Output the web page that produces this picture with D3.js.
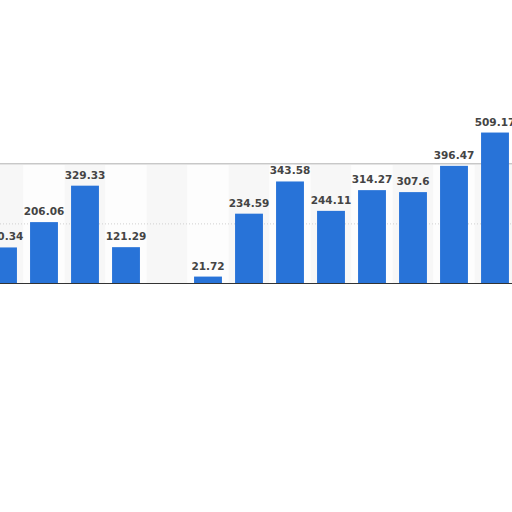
<!DOCTYPE html>
<html lang="en">
<head>
  <meta charset="utf-8">
  <title>Bar chart</title>
  <script src="https://d3js.org/d3.v7.min.js"></script>
  <style>
    html, body { margin: 0; padding: 0; background: #fff; }
    svg { display: block; }
  </style>
</head>
<body>
  <div id="chart"></div>
  <script>
    // data (no axis labels visible, so slots are just numbered)
    var categories = ["1", "2", "3", "4", "5", "6", "7", "8", "9", "10", "11", "12", "13"];
    var values = [120.34, 206.06, 329.33, 121.29, 0, 21.72, 234.59, 343.58, 244.11, 314.27, 307.6, 396.47, 509.17];
    var labels = ["120.34", "206.06", "329.33", "121.29", "", "21.72", "234.59", "343.58", "244.11", "314.27", "307.6", "396.47", "509.17"];
    var gridTicks = [200];

    var w = 512, h = 512;
    var baseY = 283;
    var topY = 164.8;

    var svg = d3.select("#chart").append("svg")
      .attr("width", w)
      .attr("height", h);

    var x = d3.scaleBand()
      .domain(categories)
      .range([-17.5, 515.5])
      .paddingInner(0.32)
      .paddingOuter(0.16);

    var y = d3.scaleLinear()
      .domain([0, 400])
      .range([baseY, topY]);

    // plot band with faint alternating columns
    svg.append("g")
      .selectAll("rect")
      .data(categories)
      .enter()
      .append("rect")
      .attr("x", d => x(d) - x.step() * x.paddingInner() / 2)
      .attr("y", y(400))
      .attr("width", x.step())
      .attr("height", baseY - y(400))
      .style("fill", (d, i) => i % 2 === 0 ? "#f7f7f7" : "#fdfdfd");

    // top border of the band
    svg.append("line")
      .attr("x1", 0).attr("x2", w)
      .attr("y1", y(400) - 1).attr("y2", y(400) - 1)
      .style("stroke", "#c8c8c8")
      .style("stroke-width", 1.5);

    // dotted grid line
    svg.append("g")
      .selectAll("line")
      .data(gridTicks)
      .enter()
      .append("line")
      .attr("x1", 0).attr("x2", w)
      .attr("y1", d => y(d)).attr("y2", d => y(d))
      .style("stroke", "#d0d0d0")
      .style("stroke-width", 1)
      .style("stroke-dasharray", "1,2");

    // bars
    svg.append("g")
      .selectAll("rect")
      .data(values)
      .enter()
      .append("rect")
      .attr("x", (d, i) => x(categories[i]))
      .attr("y", d => y(d))
      .attr("width", x.bandwidth())
      .attr("height", d => baseY - y(d))
      .style("fill", "#2873d8");

    // baseline
    svg.append("line")
      .attr("x1", 0).attr("x2", w)
      .attr("y1", baseY + 0.5).attr("y2", baseY + 0.5)
      .style("stroke", "#333")
      .style("stroke-width", 1.2);

    // value labels
    svg.append("g")
      .selectAll("text")
      .data(values)
      .enter()
      .append("text")
      .attr("x", (d, i) => x(categories[i]) + x.bandwidth() / 2)
      .attr("y", d => y(d) - 7)
      .attr("text-anchor", "middle")
      .style("font-family", "'DejaVu Sans', sans-serif")
      .style("font-weight", "bold")
      .style("font-size", "10.5px")
      .style("fill", "#444")
      .text((d, i) => labels[i]);
  </script>
</body>
</html>
